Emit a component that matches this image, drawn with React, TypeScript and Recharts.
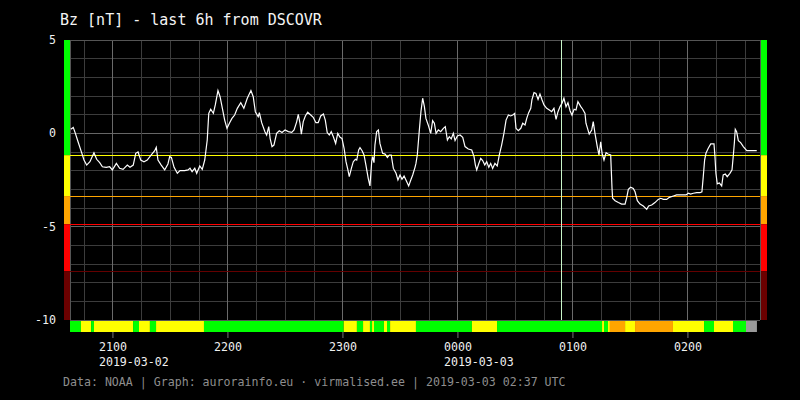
import { LineChart, Line, XAxis, YAxis, ReferenceLine, ReferenceArea } from "recharts";

// time is minutes after 20:00 UTC on 2019-03-02
const windowStart = 37.6;
const windowEnd = 397.6;

const bzTime = [
  38.0, 39.3, 40.4, 41.8, 43.5, 44.9, 46.3, 48.0, 50.1, 51.5, 53.1, 54.5, 56.5, 58.3, 59.7,
  61.8, 63.5, 65.3, 67.5, 68.9, 70.6, 71.9, 73.1, 74.5, 76.2, 77.9, 80.0, 81.8, 82.6, 83.5,
  85.2, 87.0, 88.7, 89.6, 90.5, 91.9, 93.6, 95.0, 97.4, 99.2, 100.2, 101.3, 102.7, 103.7,
  105.3, 106.6, 107.9, 109.2, 110.0, 111.0, 112.4, 113.4, 114.8, 115.9, 117.1, 118.3, 119.5,
  120.9, 122.1, 123.5, 124.9, 126.7, 128.3, 130.1, 132.0, 133.2, 134.3, 135.8, 136.4, 137.6,
  139.3, 140.2, 141.3, 142.0, 143.0, 144.0, 145.4, 146.8, 148.2, 149.8, 151.5, 153.3, 154.5,
  155.9, 156.7, 157.6, 158.3, 159.3, 160.4, 161.6, 163.2, 164.5, 165.9, 167.1, 168.4, 169.8,
  170.8, 171.8, 172.9, 173.9, 175.0, 176.2, 177.3, 178.5, 179.5, 180.6, 181.6, 182.6, 183.3,
  184.4, 185.4, 186.5, 187.2, 188.2, 188.9, 190.0, 191.0, 192.0, 193.2, 194.1, 195.0, 195.5,
  196.2, 196.7, 197.6, 198.5, 199.3, 200.7, 202.0, 203.2, 204.2, 205.2, 206.3, 207.7, 208.7,
  209.8, 210.8, 211.9, 213.3, 214.3, 215.4, 216.4, 217.6, 218.1, 218.8, 219.8, 220.7, 221.6,
  222.5, 223.3, 224.5, 225.8, 226.8, 227.7, 228.6, 229.8, 231.0, 232.4, 233.4, 234.5, 235.5,
  236.5, 237.6, 238.5, 239.7, 241.1, 242.5, 243.7, 245.4, 247.2, 248.4, 249.1, 249.8, 250.8,
  251.9, 252.9, 254.0, 255.0, 256.1, 257.1, 258.1, 259.3, 260.5, 261.6, 262.8, 264.0, 265.1,
  266.3, 267.5, 268.6, 269.6, 270.3, 271.5, 272.8, 273.8, 275.0, 275.9, 276.9, 278.0, 278.6,
  279.7, 280.7, 281.8, 282.8, 283.9, 284.9, 286.3, 287.7, 288.9, 290.1, 291.2, 292.2, 293.3,
  294.3, 295.3, 296.4, 297.4, 298.5, 299.5, 300.6, 301.6, 302.6, 304.1, 305.1, 306.3, 306.8,
  308.5, 309.8, 310.6, 311.5, 312.7, 313.6, 314.5, 315.2, 316.2, 317.3, 318.3, 319.7, 320.4,
  320.7, 322.0, 323.7, 325.4, 327.2, 328.1, 328.9, 330.1, 331.5, 332.4, 333.6, 335.0, 336.7,
  338.5, 339.5, 341.1, 342.8, 344.5, 345.8, 347.2, 348.9, 350.3, 352.4, 354.1, 356.8, 359.0,
  360.2, 361.4, 362.8, 364.6, 366.3, 367.3, 368.0, 368.7, 369.4, 370.6, 371.9, 373.6, 374.1,
  374.6, 375.3, 376.4, 377.6, 378.4, 379.5, 380.5, 381.9, 383.0, 383.7, 384.2, 384.7, 385.4,
  386.3, 387.5, 388.9, 390.7, 392.4, 394.1, 395.9,
];

const bzValue = [
  0.22, 0.32, 0.0, -0.45, -0.98, -1.43, -1.7, -1.52, -1.04, -1.39, -1.57, -1.79, -1.82, -1.79, -1.96,
  -1.61, -1.87, -1.93, -1.7, -1.82, -1.7, -1.07, -1.0, -1.43, -1.52, -1.43, -1.16, -0.93, -0.75, -1.43,
  -1.7, -1.96, -1.64, -1.25, -1.29, -1.82, -2.14, -2.0, -2.0, -1.96, -1.87, -2.05, -1.87, -2.14,
  -1.75, -1.93, -1.43, -0.36, 1.07, 1.29, 1.07, 1.52, 2.29, 1.96, 1.34, 0.71, 0.27,
  0.57, 0.8, 0.98, 1.34, 1.64, 1.34, 1.88, 2.29, 1.96, 1.16, 0.89, 1.11, 0.57,
  0.09, -0.09, 0.36, -0.27, -0.71, -0.63, 0.0, 0.14, 0.05, 0.18, 0.09, 0.05, 0.18,
  0.63, 1.02, 0.54, -0.04, 0.63, 0.93, 1.13, 0.98, 0.86, 0.57, 0.57, 0.93, 1.04,
  0.71, 0.04, -0.09, 0.09, -0.18, -0.54, 0.0, -0.21, -0.27, -0.8, -1.52, -1.96, -2.32,
  -1.88, -1.52, -1.39, -1.43, -0.89, -0.77, -0.93, -1.16, -1.7, -2.41, -2.82, -1.52, -1.25,
  -1.57, -0.63, 0.09, 0.18, -0.54, -1.07, -1.11, -1.29, -1.16, -1.16, -1.88, -2.14, -2.5,
  -2.23, -2.46, -2.29, -2.59, -2.82, -2.5, -2.23, -1.82, -1.61, -1.16, 0.09, 1.16, 1.88,
  1.43, 0.8, 0.45, 0.0, 0.68, 0.54, 0.0, 0.18, 0.09, 0.27, 0.36, -0.36, -0.18,
  -0.3, 0.0, -0.39, -0.14, -0.09, -0.21, -0.71, -0.84, -0.89, -1.25, -1.7, -1.96, -1.64,
  -1.34, -1.46, -1.7, -1.52, -1.82, -1.61, -1.88, -1.61, -1.75, -1.16, -0.63, 0.0, 0.71,
  0.98, 0.93, 0.98, 1.07, 0.27, 0.14, 0.27, 0.54, 0.45, 0.8, 1.11, 1.34, 1.79,
  2.18, 2.14, 1.82, 2.11, 1.79, 1.52, 1.34, 1.25, 1.16, 1.34, 0.75, 1.16, 1.43,
  1.61, 1.88, 1.43, 1.64, 1.21, 0.98, 1.29, 1.25, 1.7, 1.43, 1.29, 1.07, 0.54,
  -0.04, 0.18, 0.63, 0.0, -0.71, -1.16, -0.45, -1.07, -1.43, -1.04, -1.11, -1.16, -2.95,
  -3.48, -3.61, -3.71, -3.79, -3.79, -3.43, -3.0, -2.89, -2.95, -3.13, -3.61, -3.79, -3.89,
  -4.07, -3.89, -3.84, -3.71, -3.54, -3.48, -3.54, -3.54, -3.43, -3.36, -3.3, -3.3, -3.3,
  -3.21, -3.25, -3.21, -3.18, -3.18, -3.13, -2.32, -1.43, -1.07, -0.8, -0.57, -0.57, -1.25,
  -2.14, -2.71, -2.66, -2.82, -2.23, -2.18, -2.32, -2.14, -1.96, -1.16, -0.54, 0.22, 0.09,
  -0.39, -0.5, -0.71, -0.93, -0.93, -0.93, -0.93,
];

// colour strip under the plot
const stripEdges = [
  37.6, 43.3, 48.6, 50.1, 70.5, 73.6, 79.3, 82.5, 107.5, 180.4, 187.3, 190.5, 194.1, 195.2,
  196.2, 201.4, 203.0, 204.6, 218.1, 247.3, 260.4, 315.2, 316.2, 318.3, 319.3, 327.2, 332.4,
  352.2, 368.4, 373.6, 383.5, 390.3, 396.0,
];
const stripLevel = [
  "g", "y", "g", "y", "g", "y", "g", "y", "g", "y", "g", "y", "g", "y",
  "g", "y", "g", "y", "g", "y", "g", "y", "g", "y", "o", "y", "o",
  "y", "g", "y", "g", "n",
];
const levelColor: Record<string, string> = {
  g: "#00ff00",
  y: "#ffff00",
  o: "#ffa500",
  n: "#9a9a9a",
};

// side scale bands and threshold lines
const bandEdges = [5, -1.17, -3.36, -4.87, -7.38, -10];
const bandColors = ["#00ff00", "#ffff00", "#ffa500", "#ff0000", "#6b0000"];
const thresholdValues = [-1.17, -3.36, -4.87, -7.38];
const thresholdColors = ["#ffff00", "#ffa500", "#ff0000", "#640000"];

const hourTicks = [60, 120, 180, 240, 300, 360];
const hourLabels = ["2100", "2200", "2300", "0000", "0100", "0200"];
const dateLabels = ["2019-03-02", "", "", "2019-03-03", "", ""];
const yTicks = [5, 0, -5, -10];
const markerTime = 294.1;

const mono = "'DejaVu Sans Mono', monospace";
const pxPerMin = 115 / 60;
const xMin = windowStart - 6 / pxPerMin;
const xMax = windowEnd + 7 / pxPerMin;
const yMin = -10 - 12 / (280 / 15);
const stripTop = -10 - 0.7 / (280 / 15);

const data = bzTime.map((t, i) => ({ t, bz: bzValue[i] }));

const gridTimes: number[] = [];
for (let m = 45; m < windowEnd; m += 15) gridTimes.push(m);
const gridValues: number[] = [];
for (let v = 4; v > -10; v -= 1) gridValues.push(v);

function HourTick(props: any) {
  const { x, y, payload } = props;
  const i = hourTicks.indexOf(payload.value);
  return (
    <g>
      <text x={x} y={y} dy={10.7} textAnchor="middle" fill="#f0f0f0" fontSize={11.6} fontFamily={mono}>
        {hourLabels[i]}
      </text>
      {dateLabels[i] ? (
        <text x={x - 14} y={y} dy={25.7} textAnchor="start" fill="#f0f0f0" fontSize={11.6} fontFamily={mono}>
          {dateLabels[i]}
        </text>
      ) : null}
    </g>
  );
}

export default function App() {
  return (
    <div style={{ position: "relative", width: 800, height: 400, background: "#000" }}>
      <style>{"body{margin:0;background:#000}"}</style>
      <LineChart
        width={800}
        height={400}
        data={data}
        margin={{ top: 40, right: 33, bottom: 28, left: 24 }}
      >
        <XAxis
          type="number"
          dataKey="t"
          domain={[xMin, xMax]}
          allowDataOverflow
          ticks={hourTicks}
          tick={<HourTick />}
          tickSize={6}
          tickLine={{ stroke: "#777" }}
          axisLine={false}
          height={40}
        />
        <YAxis
          type="number"
          domain={[yMin, 5]}
          allowDataOverflow
          ticks={yTicks}
          tick={{ fill: "#f0f0f0", fontSize: 11.6, fontFamily: mono }}
          tickLine={false}
          axisLine={false}
          width={40}
        />

        {gridValues.map((v) => (
          <ReferenceLine
            key={"h" + v}
            segment={[{ x: windowStart, y: v }, { x: windowEnd, y: v }]}
            stroke={v % 5 === 0 ? "#666" : "#3c3c3c"}
            strokeWidth={1}
            shapeRendering="crispEdges"
          />
        ))}
        {gridTimes.map((t) => (
          <ReferenceLine
            key={"v" + t}
            segment={[{ x: t, y: -10 }, { x: t, y: 5 }]}
            stroke={t % 60 === 0 ? "#6a6a6a" : "#3c3c3c"}
            strokeWidth={1}
            shapeRendering="crispEdges"
          />
        ))}
        <ReferenceLine segment={[{ x: windowStart, y: 5 }, { x: windowEnd, y: 5 }]} stroke="#555" shapeRendering="crispEdges" />
        <ReferenceLine segment={[{ x: windowStart, y: -10 }, { x: windowEnd, y: -10 }]} stroke="#555" shapeRendering="crispEdges" />
        <ReferenceLine segment={[{ x: windowStart, y: -10 }, { x: windowStart, y: 5 }]} stroke="#555" shapeRendering="crispEdges" />
        <ReferenceLine segment={[{ x: windowEnd, y: -10 }, { x: windowEnd, y: 5 }]} stroke="#555" shapeRendering="crispEdges" />

        {bandColors.map((c, i) => (
          <ReferenceArea
            key={"l" + i}
            x1={xMin}
            x2={windowStart}
            y1={bandEdges[i + 1]}
            y2={bandEdges[i]}
            fill={c}
            fillOpacity={1}
            stroke="none"
          />
        ))}
        {bandColors.map((c, i) => (
          <ReferenceArea
            key={"r" + i}
            x1={windowEnd + 0.5}
            x2={xMax}
            y1={bandEdges[i + 1]}
            y2={bandEdges[i]}
            fill={c}
            fillOpacity={1}
            stroke="none"
          />
        ))}
        {stripLevel.map((lv, i) => (
          <ReferenceArea
            key={"s" + i}
            x1={stripEdges[i]}
            x2={stripEdges[i + 1]}
            y1={yMin}
            y2={stripTop}
            fill={levelColor[lv]}
            fillOpacity={1}
            stroke="none"
          />
        ))}

        {thresholdValues.map((v, i) => (
          <ReferenceLine
            key={"t" + i}
            segment={[{ x: windowStart, y: v }, { x: windowEnd, y: v }]}
            stroke={thresholdColors[i]}
            strokeWidth={1}
            shapeRendering="crispEdges"
          />
        ))}
        <ReferenceLine
          segment={[{ x: markerTime, y: -10 }, { x: markerTime, y: 5 }]}
          stroke="#c8f5c8"
          strokeWidth={1}
          shapeRendering="crispEdges"
        />

        <Line
          type="linear"
          dataKey="bz"
          stroke="#ffffff"
          strokeWidth={1.2}
          dot={false}
          isAnimationActive={false}
        />
      </LineChart>
      <svg
        width={800}
        height={400}
        style={{ position: "absolute", left: 0, top: 0, pointerEvents: "none" }}
      >
        <text x={60} y={25} fill="#f4f4f4" fontSize={15} fontFamily={mono}>
          Bz [nT] - last 6h from DSCOVR
        </text>
        <text x={63} y={385.5} fill="#8e8e8e" fontSize={11.6} fontFamily={mono}>
          Data: NOAA | Graph: aurorainfo.eu · virmalised.ee | 2019-03-03 02:37 UTC
        </text>
      </svg>
    </div>
  );
}
